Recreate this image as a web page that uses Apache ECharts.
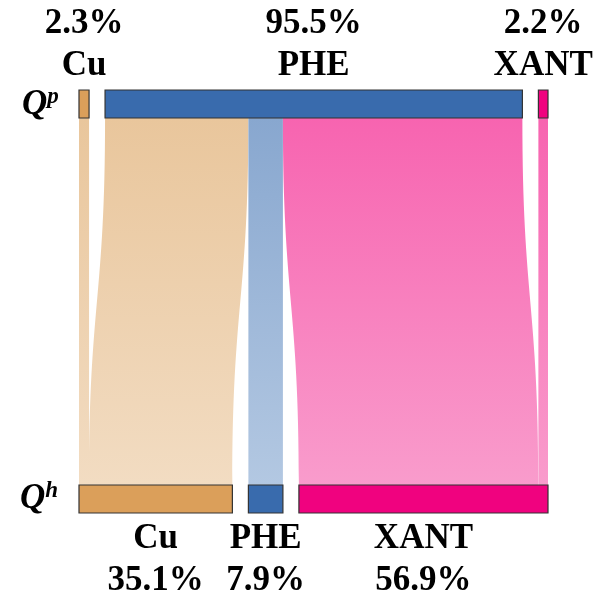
<!DOCTYPE html>
<html><head><meta charset="utf-8">
<script src="https://cdn.jsdelivr.net/npm/echarts@6/dist/echarts.min.js"></script>
<style>html,body{margin:0;padding:0;background:#fff}#c{width:600px;height:601px}</style>
</head><body><div id="c"></div>
<script>
var categories = ['Cu', 'PHE', 'XANT'];
var topPercent = ['2.3%', '95.5%', '2.2%'];
var bottomPercent = ['35.1%', '7.9%', '56.9%'];
// flows: [source index (top), target index (bottom), value]
var flowSource = [0, 1, 1, 1, 2];
var flowTarget = [0, 0, 1, 2, 2];
var flowValue  = [2.3, 32.8, 7.9, 54.8, 2.2];

var nodeColors = ['#DB9F5A', '#396BAD', '#F0027F'];
var linkTop = ['#E9C69C', '#88A7CF', '#F764B0'];
var linkBottom = ['#F2DCC2', '#B3C8E2', '#F99CCC'];

var FONT = '"Liberation Serif", "DejaVu Serif", serif';
var chart = echarts.init(document.getElementById('c'), null, {renderer: 'canvas'});

var nodes = [];
categories.forEach(function (c, i) {
  nodes.push({
    name: c + '_p', depth: 0,
    itemStyle: {color: nodeColors[i]},
    label: {position: 'top', distance: 2,
      formatter: '{v|' + topPercent[i] + '}\n{n|' + c + '}'}
  });
});
categories.forEach(function (c, i) {
  nodes.push({
    name: c + '_h', depth: 1,
    itemStyle: {color: nodeColors[i]},
    label: {position: 'bottom', distance: 4,
      formatter: '{n|' + c + '}\n{v|' + bottomPercent[i] + '}'}
  });
});
var links = flowValue.map(function (v, k) {
  var t = flowTarget[k];
  return {
    source: categories[flowSource[k]] + '_p',
    target: categories[t] + '_h',
    value: v,
    lineStyle: {
      opacity: 1,
      color: new echarts.graphic.LinearGradient(0, 0, 0, 1, [
        {offset: 0, color: linkTop[t]},
        {offset: 1, color: linkBottom[t]}
      ])
    }
  };
});

chart.setOption({
  backgroundColor: '#fff',
  animation: false,
  series: [{
    type: 'sankey',
    orient: 'vertical',
    left: 79, right: 52, top: 90, bottom: 88,
    nodeWidth: 28,
    nodeGap: 16,
    layoutIterations: 0,
    draggable: false,
    emphasis: {disabled: true},
    itemStyle: {borderColor: '#333', borderWidth: 1.2},
    lineStyle: {curveness: 0.5, opacity: 1},
    label: {
      show: true,
      color: '#000',
      fontFamily: FONT,
      rich: {
        v: {fontSize: 35, fontWeight: 'bold', fontFamily: FONT, lineHeight: 42, color: '#000'},
        n: {fontSize: 35, fontWeight: 'bold', fontFamily: FONT, lineHeight: 42, color: '#000'}
      }
    },
    data: nodes,
    links: links
  }],
  graphic: [
    {type: 'text', left: 22, top: 86, style: {
      text: '{q|Q}{s|p}', rich: {
        q: {fontSize: 35, fontStyle: 'italic', fontWeight: 'bold', fontFamily: FONT, fill: '#000'},
        s: {fontSize: 23, fontStyle: 'italic', fontWeight: 'bold', fontFamily: FONT, fill: '#000', verticalAlign: 'top', padding: [0, 0, 14, 0]}
      }}},
    {type: 'text', left: 20, top: 480, style: {
      text: '{q|Q}{s|h}', rich: {
        q: {fontSize: 35, fontStyle: 'italic', fontWeight: 'bold', fontFamily: FONT, fill: '#000'},
        s: {fontSize: 23, fontStyle: 'italic', fontWeight: 'bold', fontFamily: FONT, fill: '#000', verticalAlign: 'top', padding: [0, 0, 14, 0]}
      }}}
  ]
});
</script></body></html>
